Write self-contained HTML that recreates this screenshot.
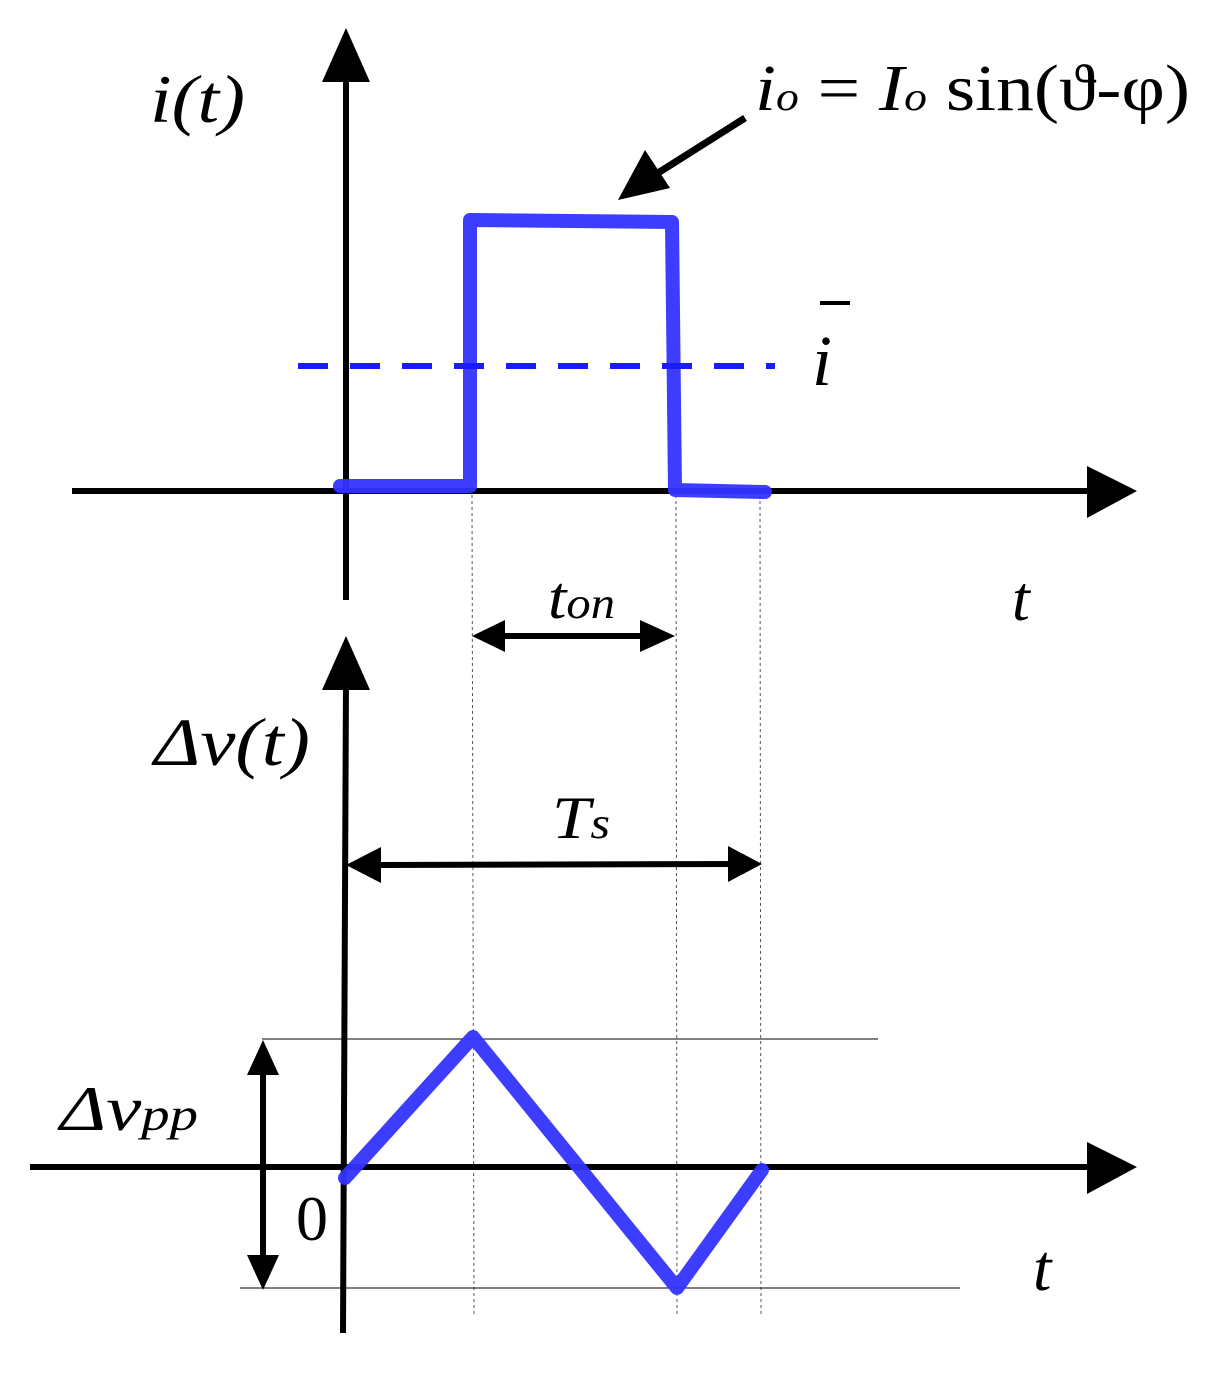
<!DOCTYPE html>
<html><head><meta charset="utf-8"><style>html,body{margin:0;padding:0;background:#fff}</style></head>
<body>
<svg width="1209" height="1371" viewBox="0 0 1209 1371" xmlns="http://www.w3.org/2000/svg" font-family="Liberation Serif, serif">
<rect width="1209" height="1371" fill="#fff"/>
<g stroke="#555" stroke-width="1" stroke-dasharray="3,3">
<line x1="472" y1="495" x2="474" y2="1315"/>
<line x1="676" y1="495" x2="677" y2="1315"/>
<line x1="760" y1="495" x2="761" y2="1315"/>
</g>
<line x1="262" y1="1039" x2="878" y2="1039" stroke="#000" stroke-width="1"/>
<line x1="240" y1="1288" x2="960" y2="1288" stroke="#000" stroke-width="1"/>
<line x1="346" y1="600" x2="346" y2="70" stroke="#000" stroke-width="6"/>
<polygon points="346,28 322,82 370,82" fill="#000"/>
<line x1="72" y1="491" x2="1095" y2="491" stroke="#000" stroke-width="6"/>
<polygon points="1137,491 1087,466 1087,518" fill="#000"/>
<polyline points="340,486 470,486 470,220 672,222 675,490 765,492" fill="none" stroke="#3333ff" stroke-width="14" stroke-linejoin="round" stroke-linecap="round" opacity="0.95"/>
<line x1="298" y1="366" x2="775" y2="366" stroke="#1a1aff" stroke-width="6" stroke-dasharray="30,22"/>
<text x="150" y="122" font-size="68" font-style="italic" textLength="95" lengthAdjust="spacingAndGlyphs">i(t)</text>
<text x="755" y="110" font-size="66" textLength="435" lengthAdjust="spacingAndGlyphs"><tspan font-style="italic">i</tspan><tspan font-size="40" font-style="italic">o</tspan> = <tspan font-style="italic">I</tspan><tspan font-size="40" font-style="italic">o</tspan> sin(ϑ-φ)</text>
<line x1="745" y1="118" x2="650" y2="178" stroke="#000" stroke-width="7"/>
<polygon points="618,200 645,150 670,188" fill="#000"/>
<text x="812" y="385" font-size="72" font-style="italic">i</text>
<line x1="820" y1="303" x2="850" y2="303" stroke="#000" stroke-width="4"/>
<text x="1012" y="620" font-size="64" font-style="italic">t</text>
<text x="548" y="618" font-size="60" font-style="italic" textLength="67" lengthAdjust="spacingAndGlyphs">t<tspan font-size="44">on</tspan></text>
<line x1="490" y1="636" x2="655" y2="636" stroke="#000" stroke-width="6"/>
<polygon points="472,636 505,620 505,652" fill="#000"/>
<polygon points="675,636 640,620 640,652" fill="#000"/>
<line x1="346" y1="680" x2="343" y2="1333" stroke="#000" stroke-width="6"/>
<polygon points="346,636 322,690 370,690" fill="#000"/>
<text x="154" y="765" font-size="68" font-style="italic" textLength="156" lengthAdjust="spacingAndGlyphs">Δv(t)</text>
<text x="552" y="838" font-size="60" font-style="italic" textLength="58" lengthAdjust="spacingAndGlyphs">T<tspan font-size="44">s</tspan></text>
<line x1="365" y1="865" x2="740" y2="864" stroke="#000" stroke-width="6"/>
<polygon points="346,865 381,847 381,883" fill="#000"/>
<polygon points="762,864 728,846 728,882" fill="#000"/>
<line x1="30" y1="1167" x2="1095" y2="1167" stroke="#000" stroke-width="6"/>
<polygon points="1137,1167 1087,1142 1087,1194" fill="#000"/>
<line x1="263" y1="1065" x2="263" y2="1265" stroke="#000" stroke-width="6"/>
<polygon points="263,1040 247,1075 279,1075" fill="#000"/>
<polygon points="263,1290 247,1255 279,1255" fill="#000"/>
<text x="60" y="1130" font-size="64" font-style="italic" textLength="138" lengthAdjust="spacingAndGlyphs">Δv<tspan font-size="46">pp</tspan></text>
<polyline points="345,1178 473,1037 677,1288 762,1170" fill="none" stroke="#3333ff" stroke-width="14" stroke-linejoin="round" stroke-linecap="round" opacity="0.95"/>
<text x="296" y="1240" font-size="64">0</text>
<text x="1033" y="1290" font-size="66" font-style="italic">t</text>
</svg>
</body></html>
